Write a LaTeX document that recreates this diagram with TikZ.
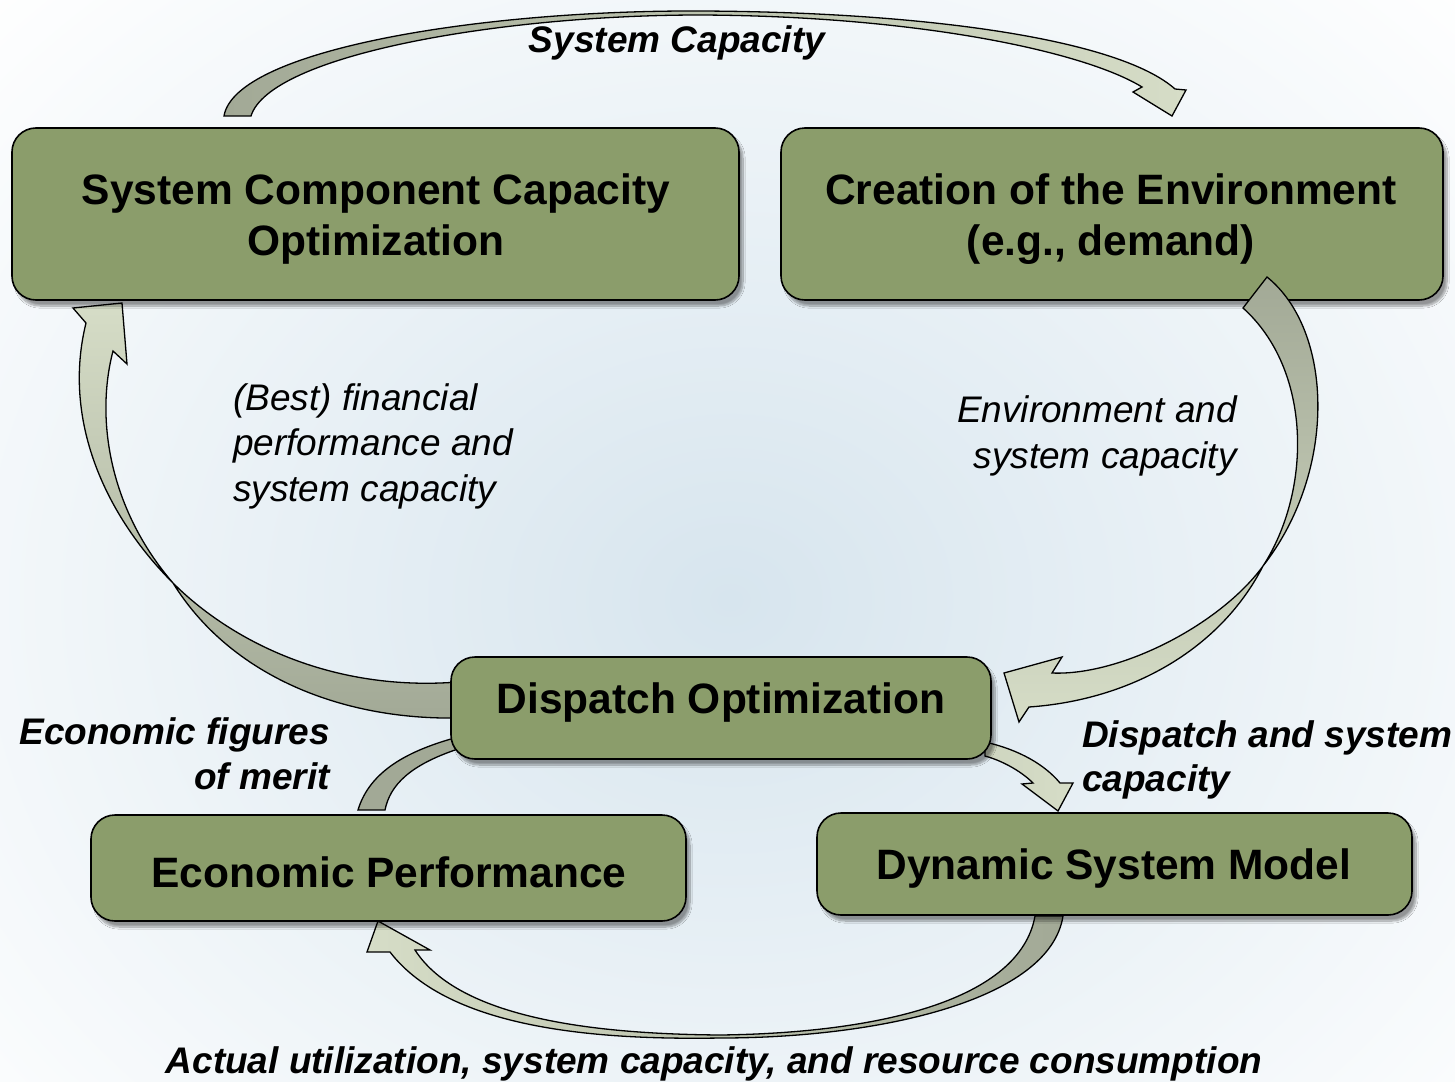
\documentclass[tikz,border=0pt]{standalone}
\usepackage{fontspec}
\setmainfont{Liberation Sans}
\usetikzlibrary{shadows.blur}
\definecolor{boxgreen}{HTML}{8B9D6B}
\definecolor{arrdark}{HTML}{A2A996}
\definecolor{arrlight}{HTML}{D6DDC7}
\definecolor{bgmid}{HTML}{D7E5EE}
\begin{document}
\begin{tikzpicture}[x=1pt,y=-1pt,
  box/.style={draw=black, line width=1.6pt, fill=boxgreen, rounded corners=24pt,
    inner sep=0pt,
    blur shadow={shadow xshift=4pt, shadow yshift=-6pt, shadow blur steps=10, shadow opacity=40}},
  boxtxt/.style={align=center, inner sep=0pt, font=\fontsize{42.5}{51}\selectfont\bfseries},
  lblbi/.style={inner sep=0pt, font=\fontsize{37}{44.5}\selectfont\bfseries\itshape},
  lbli/.style={inner sep=0pt, font=\fontsize{37}{45.5}\selectfont\itshape},
  barrow/.style={draw=black, line width=1.3pt, line join=miter}
]
\useasboundingbox (0,0) rectangle (1455,1081);
\begin{scope}
\clip (0,0) rectangle (1455,1081);
\fill[white] (0,0) rectangle (1455,1081);
\shade[inner color=bgmid, outer color=white] (730,600) ellipse (1050 and 880);
\end{scope}

% top arrow: System Capacity
\shade[barrow, left color=arrdark, right color=arrlight]
  (224,116) .. controls (235,50) and (480,10) .. (700,11)
  .. controls (930,12) and (1120,40) .. (1175,89)
  -- (1186,90) -- (1172,116) -- (1133,92) -- (1142,87)
  .. controls (1085,52) and (920,16) .. (700,15)
  .. controls (500,15) and (270,55) .. (251,116) -- cycle;

% left arrow: dispatch -> capacity optimization
\shade[barrow, top color=arrlight, bottom color=arrdark]
  (458,682) .. controls (330,692) and (230,640) .. (173,583)
  .. controls (105,515) and (62,420) .. (86,323)
  -- (73,308) -- (122,303) -- (127,364) -- (113,351)
  .. controls (95,420) and (110,510) .. (173,583)
  .. controls (230,675) and (340,720) .. (458,718) -- cycle;

% small arrow: economic performance -> dispatch
\fill[barrow, fill=arrdark]
  (358,810) .. controls (370,770) and (410,750) .. (458,737)
  -- (458,749) .. controls (410,765) and (390,785) .. (385,810) -- cycle;

% small arrow: dispatch -> dynamic model
\shade[barrow, left color=arrlight!85!arrdark, right color=arrlight]
  (985,742) .. controls (1020,750) and (1045,765) .. (1060,783)
  -- (1073,783) -- (1058,811) -- (1022,784) -- (1033,783)
  .. controls (1020,770) and (1000,760) .. (985,756) -- cycle;

% bottom arrow: dynamic model -> economic performance
\shade[barrow, left color=arrlight, right color=arrdark]
  (1063,916) .. controls (1050,1000) and (880,1038) .. (720,1038)
  .. controls (600,1040) and (450,1030) .. (390,952)
  -- (367,952) -- (378,921) -- (430,950) -- (415,950)
  .. controls (460,1020) and (600,1034) .. (720,1035)
  .. controls (880,1033) and (1020,1000) .. (1035,916) -- cycle;

% boxes
\node[box, minimum width=727pt, minimum height=172pt] (scco) at (375.5,214) {};
\node[box, minimum width=662pt, minimum height=172pt] (env) at (1112,214) {};
\node[box, minimum width=540pt, minimum height=102pt] (disp) at (721,708) {};
\node[box, minimum width=595pt, minimum height=106pt] (econ) at (388.5,868) {};
\node[box, minimum width=595pt, minimum height=102pt] (dyn) at (1114.5,864) {};

\node[boxtxt] (sccot) at (376,219) {System Component Capacity\\Optimization};
\node[boxtxt] (envt) at (1111,219) {Creation of the Environment\\(e.g., demand)};
\node[boxtxt] (dispt) at (721,703) {Dispatch Optimization};
\node[boxtxt] (econt) at (389,872) {Economic Performance};
\node[boxtxt] (dynt) at (1114,868) {Dynamic System Model};

% right arrow: environment -> dispatch (drawn over the box)
\shade[barrow, top color=arrdark, bottom color=arrlight]
  (1267,277) .. controls (1333,330) and (1338,470) .. (1263,566)
  .. controls (1220,650) and (1130,700) .. (1029,707)
  -- (1019,722) -- (1004,673) -- (1062,657) -- (1052,673)
  .. controls (1120,676) and (1220,625) .. (1263,566)
  .. controls (1312,490) and (1312,370) .. (1243,308) -- cycle;

% labels
\node[lblbi] (lsys) at (677,43) {System Capacity};
\node[lbli, anchor=west, align=left] (lbest) at (233,446) {(Best) financial\\performance and\\system capacity};
\node[lbli, anchor=east, align=right] (lenv) at (1237,436) {Environment and\\system capacity};
\node[lblbi, anchor=east, align=right] (lfig) at (330,754) {Economic figures\\of merit};
\node[lblbi, anchor=west, align=left] (ldsc) at (1082,760) {Dispatch and system\\capacity};
\node[lblbi] (lact) at (714,1064) {Actual utilization, system capacity, and resource consumption};
\end{tikzpicture}
\end{document}
